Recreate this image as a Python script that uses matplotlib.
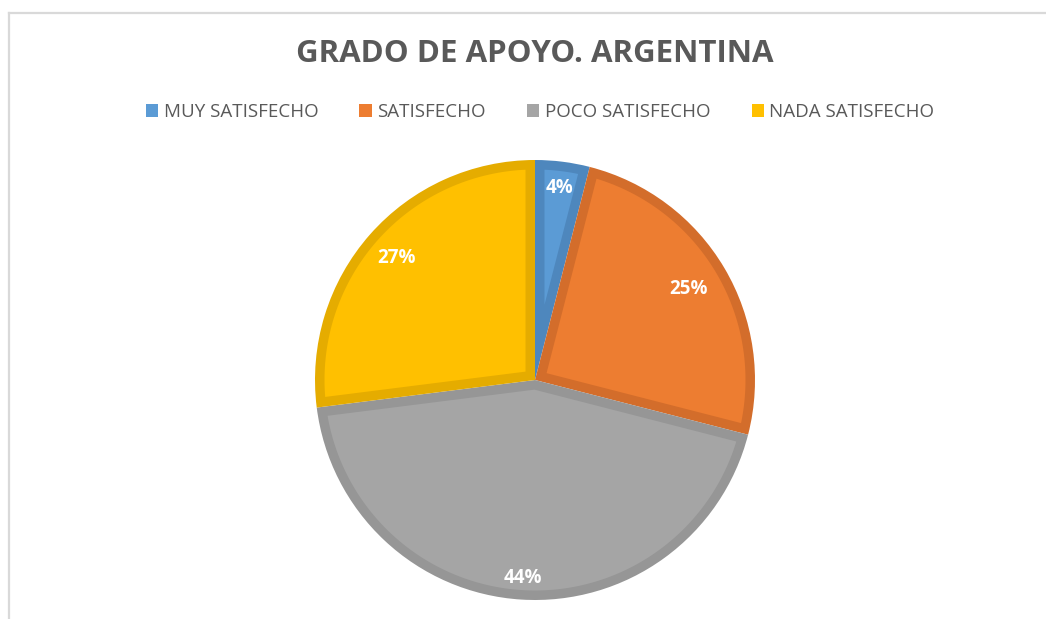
import numpy as np
import matplotlib
matplotlib.use("Agg")
import matplotlib.pyplot as plt
from matplotlib.lines import Line2D
from matplotlib.patches import Patch, Polygon

categories = ["MUY SATISFECHO", "SATISFECHO", "POCO SATISFECHO", "NADA SATISFECHO"]
values = [4, 25, 44, 27]
fill_colors = ["#5B9BD5", "#ED7D31", "#A5A5A5", "#FFC000"]
edge_colors = ["#4E87BD", "#D36D2B", "#969696", "#E5AC00"]
title = "GRADO DE APOYO. ARGENTINA"

plt.rcParams['font.family'] = ['Open Sans', 'DejaVu Sans']

W, H = 1046, 619
fig = plt.figure(figsize=(W / 100, H / 100), dpi=100)
fig.patch.set_facecolor("white")

# chart frame (left and top edges visible)
fx = 8.5 / W
fy = 1 - 12.5 / H
fig.add_artist(Line2D([fx, fx], [0, fy], transform=fig.transFigure, color="#D9D9D9", lw=1.6))
fig.add_artist(Line2D([fx, 1.0], [fy, fy], transform=fig.transFigure, color="#D9D9D9", lw=1.6))

# pie axes
cx, cy, r = 535, 380, 220
ax = fig.add_axes([(cx - r) / W, (H - cy - r) / H, 2 * r / W, 2 * r / H])
wedges, texts, autotexts = ax.pie(
    values, colors=edge_colors, startangle=90, counterclock=False,
    autopct=lambda p: f"{p:.0f}%", pctdistance=1.0,
    wedgeprops=dict(linewidth=0),
    textprops=dict(color="white", fontsize=13.5, fontweight="bold"),
)
ax.set_xlim(-1, 1)
ax.set_ylim(-1, 1)
ax.set_aspect("equal")
ax.axis("off")

# label placement (fraction of radius, like Excel's best-fit)
label_radius = [0.88, 0.81, 0.90, 0.84]
for t, f in zip(autotexts, label_radius):
    x, y = t.get_position()
    t.set_position((x * f, y * f))
    t.set_zorder(5)

# inner lighter region of each wedge (border drawn inside the wedge)
d = 9.5 / r  # border width in data units
for w, fc in zip(wedges, fill_colors):
    t1, t2 = sorted([w.theta1, w.theta2])
    R = w.r
    x0, y0 = w.center
    half = np.radians((t2 - t1) / 2)
    mid = np.radians((t1 + t2) / 2)
    Ri = R - d
    delta = np.degrees(np.arcsin(d / Ri))
    vdist = d / np.sin(half)
    arc = np.radians(np.linspace(t1 + delta, t2 - delta, 200))
    pts = [(x0 + vdist * np.cos(mid), y0 + vdist * np.sin(mid))]
    pts += list(zip(x0 + Ri * np.cos(arc), y0 + Ri * np.sin(arc)))
    ax.add_patch(Polygon(pts, closed=True, facecolor=fc, edgecolor="none",
                         zorder=w.get_zorder() + 0.1))

# title
fig.text(535 / W, 1 - 54 / H, title, ha="center", va="center",
         fontsize=22.5, fontweight="bold", color="#595959")

# legend
handles = [Patch(facecolor=c, edgecolor="none") for c in fill_colors]
leg = fig.legend(handles, categories, loc="center", bbox_to_anchor=(540 / W, 1 - 112 / H),
                 ncol=4, frameon=False, fontsize=13.5, labelcolor="#595959",
                 handlelength=0.65, handleheight=0.65, handletextpad=0.3,
                 columnspacing=2.2)

fig.savefig("out.png", dpi=100, facecolor="white")
